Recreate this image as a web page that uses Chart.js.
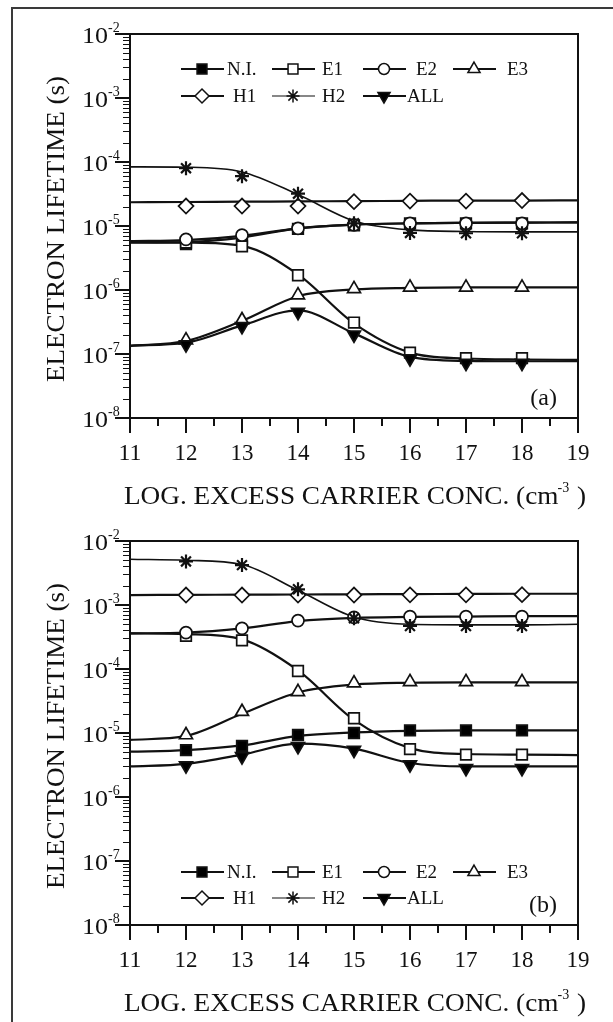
<!DOCTYPE html>
<html>
<head>
<meta charset="utf-8">
<script src="https://cdn.jsdelivr.net/npm/chart.js@4.4.1/dist/chart.umd.min.js"></script>
<style>
  body { margin: 0; background: #fff; width: 613px; height: 1022px; overflow: hidden; position: relative; }
  .frame { position: absolute; left: 11px; top: 7px; width: 700px; height: 1100px; border: 2px solid #3a3a3a; }
  canvas { position: absolute; left: 0; }
</style>
</head>
<body>
<div class="frame"></div>
<canvas id="chartA" width="613" height="510" style="top:0"></canvas>
<canvas id="chartB" width="613" height="512" style="top:510px"></canvas>
<script>
// x positions: curves run over the whole axis, symbols only at 12..18
const xLine = [11, 12, 13, 14, 15, 16, 17, 18, 19];
const xMarks = [12, 13, 14, 15, 16, 17, 18];
const xTicks = [11, 12, 13, 14, 15, 16, 17, 18, 19];
const yExponents = [-8, -7, -6, -5, -4, -3, -2];
const seriesNames = ["N.I.", "E1", "E2", "E3", "H1", "H2", "ALL"];

// panel (a) curves
const aLineNI = [5.5e-6, 5.6e-6, 6.6e-6, 9.2e-6, 1.05e-5, 1.1e-5, 1.12e-5, 1.13e-5, 1.14e-5];
const aLineE1 = [5.6e-6, 5.5e-6, 4.9e-6, 1.75e-6, 3.0e-7, 1.05e-7, 8.5e-8, 8.2e-8, 8.1e-8];
const aLineE2 = [5.8e-6, 6.0e-6, 7.0e-6, 9.2e-6, 1.05e-5, 1.1e-5, 1.12e-5, 1.13e-5, 1.14e-5];
const aLineE3 = [1.33e-7, 1.6e-7, 3.3e-7, 8.0e-7, 1.02e-6, 1.08e-6, 1.1e-6, 1.1e-6, 1.1e-6];
const aLineH1 = [2.35e-5, 2.37e-5, 2.4e-5, 2.42e-5, 2.45e-5, 2.47e-5, 2.5e-5, 2.5e-5, 2.52e-5];
const aLineH2 = [8.4e-5, 8.3e-5, 7.0e-5, 3.1e-5, 1.2e-5, 8.7e-6, 8.2e-6, 8.1e-6, 8.1e-6];
const aLineALL = [1.35e-7, 1.5e-7, 2.8e-7, 4.8e-7, 2.1e-7, 9.0e-8, 7.8e-8, 7.7e-8, 7.7e-8];
// panel (a) symbols
const aMarkNI = [5.2e-6, 6.4e-6, 9.0e-6, 1.02e-5, 1.1e-5, 1.1e-5, 1.1e-5];
const aMarkE1 = [5.5e-6, 4.8e-6, 1.7e-6, 3.1e-7, 1.05e-7, 8.6e-8, 8.6e-8];
const aMarkE2 = [6.2e-6, 7.2e-6, 9.2e-6, 1.04e-5, 1.1e-5, 1.1e-5, 1.1e-5];
const aMarkE3 = [1.65e-7, 3.4e-7, 8.3e-7, 1.04e-6, 1.1e-6, 1.1e-6, 1.1e-6];
const aMarkH1 = [2.05e-5, 2.05e-5, 2.05e-5, 2.4e-5, 2.45e-5, 2.45e-5, 2.5e-5];
const aMarkH2 = [8.0e-5, 6.0e-5, 3.2e-5, 1.1e-5, 7.8e-6, 7.7e-6, 7.7e-6];
const aMarkALL = [1.4e-7, 2.7e-7, 4.5e-7, 2.0e-7, 8.5e-8, 7.2e-8, 7.2e-8];

// panel (b) curves
const bLineNI = [5.1e-6, 5.4e-6, 6.4e-6, 9.0e-6, 1.02e-5, 1.08e-5, 1.1e-5, 1.1e-5, 1.1e-5];
const bLineE1 = [3.6e-4, 3.5e-4, 2.9e-4, 9.5e-5, 1.6e-5, 5.8e-6, 4.7e-6, 4.6e-6, 4.5e-6];
const bLineE2 = [3.6e-4, 3.7e-4, 4.3e-4, 5.6e-4, 6.3e-4, 6.5e-4, 6.6e-4, 6.7e-4, 6.7e-4];
const bLineE3 = [7.8e-6, 9.0e-6, 2.0e-5, 4.3e-5, 5.7e-5, 6.1e-5, 6.2e-5, 6.2e-5, 6.2e-5];
const bLineH1 = [1.43e-3, 1.44e-3, 1.45e-3, 1.46e-3, 1.47e-3, 1.48e-3, 1.49e-3, 1.5e-3, 1.5e-3];
const bLineH2 = [5.2e-3, 5.0e-3, 4.3e-3, 1.7e-3, 6.5e-4, 5.0e-4, 4.9e-4, 4.9e-4, 5.0e-4];
const bLineALL = [3.0e-6, 3.3e-6, 4.6e-6, 6.8e-6, 5.7e-6, 3.4e-6, 3.0e-6, 3.0e-6, 3.0e-6];
// panel (b) symbols
const bMarkNI = [5.4e-6, 6.3e-6, 9.3e-6, 1.0e-5, 1.1e-5, 1.1e-5, 1.1e-5];
const bMarkE1 = [3.3e-4, 2.8e-4, 9.3e-5, 1.7e-5, 5.6e-6, 4.6e-6, 4.6e-6];
const bMarkE2 = [3.7e-4, 4.3e-4, 5.7e-4, 6.4e-4, 6.6e-4, 6.6e-4, 6.6e-4];
const bMarkE3 = [9.3e-6, 2.15e-5, 4.4e-5, 6.0e-5, 6.3e-5, 6.3e-5, 6.3e-5];
const bMarkH1 = [1.43e-3, 1.43e-3, 1.43e-3, 1.43e-3, 1.44e-3, 1.44e-3, 1.45e-3];
const bMarkH2 = [4.8e-3, 4.2e-3, 1.76e-3, 6.2e-4, 4.7e-4, 4.7e-4, 4.7e-4];
const bMarkALL = [3.1e-6, 4.3e-6, 6.2e-6, 5.4e-6, 3.2e-6, 2.8e-6, 2.8e-6];

const SERIF = '"Liberation Serif", "Times New Roman", serif';

// symbol look per series
const symbols = {
  "N.I.": { pointStyle: "rect", radius: 7.5, rotation: 0, fill: "#000" },
  "E1": { pointStyle: "rect", radius: 7.5, rotation: 0, fill: "#fff" },
  "E2": { pointStyle: "circle", radius: 6, rotation: 0, fill: "#fff" },
  "E3": { pointStyle: "triangle", radius: 7.5, rotation: 0, fill: "#fff" },
  "H1": { pointStyle: "rectRot", radius: 7.5, rotation: 0, fill: "#fff" },
  "H2": { pointStyle: "star", radius: 7, rotation: 0, fill: "#000" },
  "ALL": { pointStyle: "triangle", radius: 7.5, rotation: 180, fill: "#000" }
};

// legend layout: column starts and label offsets
const legendCols = [181, 272, 363, 453];
const legendTextOffset = { "N.I.": 46, "E1": 50, "E2": 53, "E3": 54, "H1": 52, "H2": 50, "ALL": 44 };

// draws text stretched horizontally to a given width (the original face is wider)
function fillStretched(ctx, text, cx, cy, width) {
  const w = ctx.measureText(text).width;
  ctx.save();
  ctx.translate(cx, cy);
  ctx.scale(width / w, 1);
  ctx.textAlign = "center";
  ctx.fillText(text, 0, 0);
  ctx.restore();
}

const axesPlugin = {
  id: "axesFrame",
  afterDatasetsDraw(chart, args, opts) {
    const { ctx, chartArea: a } = chart;
    const x = chart.scales.x, y = chart.scales.y;
    ctx.save();
    ctx.strokeStyle = "#111";
    ctx.fillStyle = "#111";

    // frame
    ctx.lineWidth = 2;
    ctx.strokeRect(a.left, a.top, a.right - a.left, a.bottom - a.top);

    // x ticks (outside, below)
    ctx.beginPath();
    for (let v = xTicks[0]; v <= xTicks[xTicks.length - 1]; v += 0.5) {
      const px = Math.round(x.getPixelForValue(v));
      const len = Number.isInteger(v) ? 15 : 8;
      ctx.moveTo(px, a.bottom);
      ctx.lineTo(px, a.bottom + len);
    }
    ctx.stroke();

    // y ticks (outside, left)
    ctx.beginPath();
    yExponents.forEach((e) => {
      const py = Math.round(y.getPixelForValue(Math.pow(10, e)));
      ctx.moveTo(a.left - 15, py);
      ctx.lineTo(a.left, py);
    });
    ctx.stroke();
    ctx.lineWidth = 1.2;
    ctx.beginPath();
    yExponents.slice(0, -1).forEach((e) => {
      for (let k = 2; k <= 9; k++) {
        const py = Math.round(y.getPixelForValue(k * Math.pow(10, e))) + 0.5;
        ctx.moveTo(a.left - 7, py);
        ctx.lineTo(a.left, py);
      }
    });
    ctx.stroke();

    // x tick labels
    ctx.font = "24px " + SERIF;
    ctx.textAlign = "center";
    ctx.textBaseline = "alphabetic";
    xTicks.forEach((v) => {
      fillStretched(ctx, String(v), x.getPixelForValue(v), a.bottom + 42, 23);
    });

    // y tick labels with superscript exponent
    yExponents.forEach((e) => {
      const py = y.getPixelForValue(Math.pow(10, e));
      ctx.font = "24px " + SERIF;
      fillStretched(ctx, "10", a.left - 35, py + 9, 26);
      ctx.font = "14px " + SERIF;
      ctx.textAlign = "left";
      ctx.fillText(String(e), a.left - 22, py - 2);
    });

    // x title: "LOG. EXCESS CARRIER CONC. (cm" + sup "-3" + " )"
    const cx = (a.left + a.right) / 2;
    const t1 = "LOG. EXCESS CARRIER CONC. (cm";
    const t2 = "-3";
    const t3 = " )";
    const s = 1.09;
    ctx.font = "25px " + SERIF;
    const w1 = ctx.measureText(t1).width * s;
    const w3 = ctx.measureText(t3).width * s;
    ctx.font = "14px " + SERIF;
    const w2 = ctx.measureText(t2).width;
    const tx = cx - (w1 + w2 + w3) / 2 + 1;
    const tb = a.bottom + 86;
    ctx.font = "25px " + SERIF;
    fillStretched(ctx, t1, tx + w1 / 2, tb, w1);
    ctx.font = "14px " + SERIF;
    ctx.textAlign = "left";
    ctx.fillText(t2, tx + w1 - 1, tb - 12);
    ctx.font = "25px " + SERIF;
    fillStretched(ctx, t3, tx + w1 + w2 + w3 / 2, tb, w3);

    // y title
    ctx.save();
    ctx.translate(57, (a.top + a.bottom) / 2 + 3);
    ctx.rotate(-Math.PI / 2);
    ctx.font = "25px " + SERIF;
    ctx.textBaseline = "middle";
    fillStretched(ctx, "ELECTRON LIFETIME (s)", 0, 0, 306);
    ctx.restore();

    // panel tag
    ctx.font = "24px " + SERIF;
    ctx.textAlign = "right";
    ctx.textBaseline = "alphabetic";
    ctx.fillText(opts.tag, a.right - 21, a.bottom - 13);

    // legend
    const rows = [seriesNames.slice(0, 4), seriesNames.slice(4)];
    rows.forEach((row, r) => {
      const ly = a.top + opts.legendRows[r];
      row.forEach((name, c) => {
        const lx = legendCols[c];
        const sym = symbols[name];
        ctx.strokeStyle = "#111";
        ctx.lineWidth = name === "H2" ? 1.2 : 2;
        ctx.beginPath();
        ctx.moveTo(lx, ly);
        ctx.lineTo(lx + 43, ly);
        ctx.stroke();
        ctx.fillStyle = sym.fill;
        ctx.lineWidth = 1.5;
        Chart.helpers.drawPoint(ctx, { pointStyle: sym.pointStyle, radius: sym.radius - 0.5, rotation: sym.rotation, borderWidth: 1.5 }, lx + 21, ly);
        ctx.fillStyle = "#111";
        ctx.font = "19px " + SERIF;
        ctx.textAlign = "left";
        ctx.textBaseline = "middle";
        ctx.fillText(name, lx + legendTextOffset[name], ly + 1);
      });
    });
    ctx.restore();
  }
};

function buildDatasets(lines, marks) {
  const sets = [];
  seriesNames.forEach((name, i) => {
    const sym = symbols[name];
    sets.push({
      label: name,
      data: xLine.map((v, j) => ({ x: v, y: lines[i][j] })),
      borderColor: "#111",
      borderWidth: name === "H2" ? 1.6 : 2.2,
      pointRadius: 0,
      cubicInterpolationMode: "monotone",
      fill: false,
      order: 20
    });
    sets.push({
      label: name + " symbols",
      data: xMarks.map((v, j) => ({ x: v, y: marks[i][j] })),
      showLine: false,
      pointStyle: sym.pointStyle,
      pointRadius: sym.radius,
      pointRotation: sym.rotation,
      pointBackgroundColor: sym.fill,
      pointBorderColor: "#111",
      pointBorderWidth: name === "H2" ? 2.2 : 1.7,
      order: 10 - i
    });
  });
  return sets;
}

function makeChart(id, lines, marks, panel) {
  return new Chart(document.getElementById(id), {
    type: "line",
    data: { datasets: buildDatasets(lines, marks) },
    options: {
      responsive: false,
      animation: false,
      devicePixelRatio: 1,
      layout: { padding: panel.padding },
      scales: {
        x: { type: "linear", min: 11, max: 19, display: false },
        y: { type: "logarithmic", min: 1e-8, max: 1e-2, display: false }
      },
      plugins: {
        legend: { display: false },
        tooltip: { enabled: false },
        axesFrame: panel
      }
    },
    plugins: [axesPlugin]
  });
}

makeChart("chartA",
  [aLineNI, aLineE1, aLineE2, aLineE3, aLineH1, aLineH2, aLineALL],
  [aMarkNI, aMarkE1, aMarkE2, aMarkE3, aMarkH1, aMarkH2, aMarkALL],
  { padding: { left: 130, right: 35, top: 34, bottom: 92 }, tag: "(a)", legendRows: [35, 62] });

makeChart("chartB",
  [bLineNI, bLineE1, bLineE2, bLineE3, bLineH1, bLineH2, bLineALL],
  [bMarkNI, bMarkE1, bMarkE2, bMarkE3, bMarkH1, bMarkH2, bMarkALL],
  { padding: { left: 130, right: 35, top: 31, bottom: 97 }, tag: "(b)", legendRows: [331, 357] });
</script>
</body>
</html>
